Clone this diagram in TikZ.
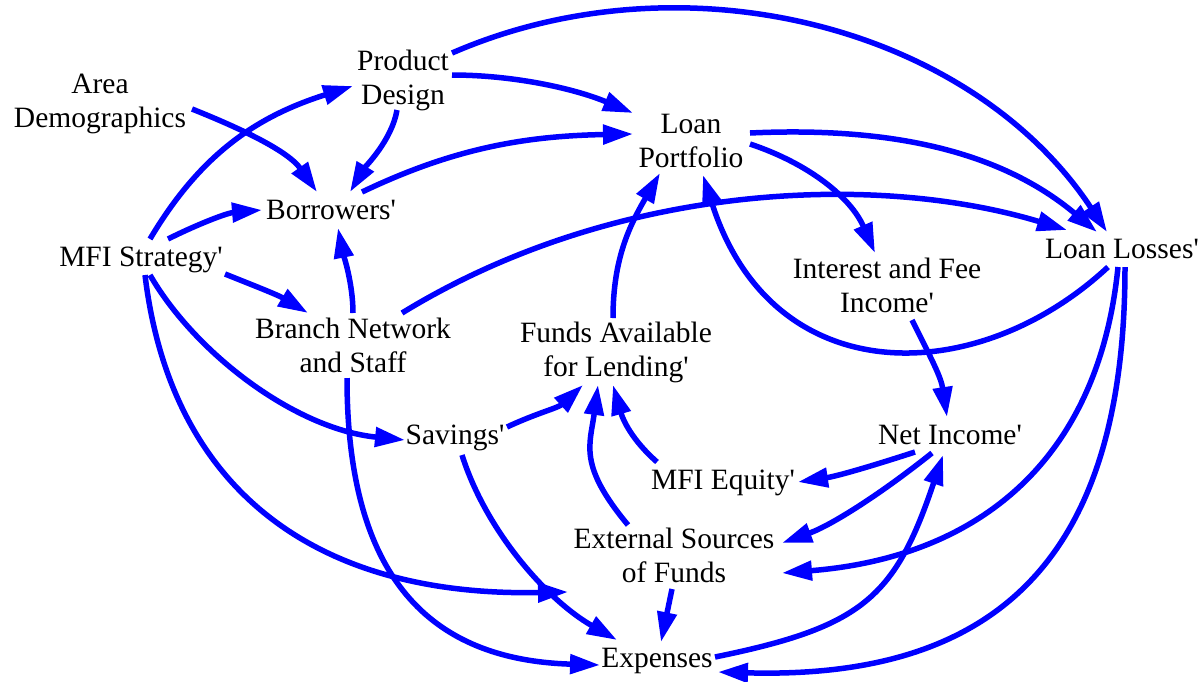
\documentclass[tikz,border=0pt]{standalone}
\usepackage{fontspec}
\setmainfont{Liberation Serif}
\usetikzlibrary{arrows.meta}
\definecolor{linkblue}{RGB}{0,0,255}
\newcommand{\ap}{\textquotesingle}
\tikzset{
  var/.style={inner sep=0pt, align=center, font=\fontsize{29.5}{34}\selectfont,
    execute at begin node=\strut, execute at end node=\strut},
  link/.style={draw=linkblue, line width=5.5pt,
    -{Triangle[length=30pt,width=19pt]}}
}
\begin{document}
\begin{tikzpicture}[x=1pt,y=-1pt]
\useasboundingbox (0,0) rectangle (1203,681);
% variables
\node[var] (ad)  at (100,106) {Area\\Demographics};
\node[var] (pd)  at (403,82)  {Product\\Design};
\node[var] (lp)  at (691,146) {Loan\\Portfolio};
\node[var] (bo)  at (331,213) {Borrowers\ap};
\node[var] (ms)  at (141,260) {MFI Strategy\ap};
\node[var] (ll)  at (1122,252) {Loan Losses\ap};
\node[var] (ifi) at (887,290) {Interest and Fee\\Income\ap};
\node[var] (bn)  at (353,350) {Branch Network\\and Staff};
\node[var] (fa)  at (616,354) {Funds Available\\for Lending\ap};
\node[var] (sv)  at (455,438) {Savings\ap};
\node[var] (ni)  at (950,438) {Net Income\ap};
\node[var] (eq)  at (723,483) {MFI Equity\ap};
\node[var] (es)  at (674,560) {External Sources\\of Funds};
\node[var] (ex)  at (657,661) {Expenses};
% links
\draw[link] ([shift={(49,-7)}]pd.center) .. controls +(60,0) and +(-60,-25) .. ([shift={(-58,-33)}]lp.center);
\draw[link] ([shift={(-6,28)}]pd.center) .. controls +(-5,30) and +(15,-25) .. ([shift={(19,-21)}]bo.center);
\draw[link] ([shift={(49,-29)}]pd.center) .. controls +(230,-100) and +(-137,-207) .. ([shift={(-15,-20)}]ll.center);
\draw[link] ([shift={(92,3)}]ad.center) .. controls +(50,20) and +(-29,-41) .. ([shift={(-14,-21)}]bo.center);
\draw[link] ([shift={(9,-21)}]ms.center) .. controls +(51,-86) and +(-95,30) .. ([shift={(-50,4)}]pd.center);
\draw[link] ([shift={(27,-21)}]ms.center) .. controls +(30,-15) and +(-35,3) .. ([shift={(-69,-3)}]bo.center);
\draw[link] ([shift={(84,14)}]ms.center) .. controls +(30,12) and +(-30,-18) .. ([shift={(-45,-37)}]bn.center);
\draw[link] ([shift={(9,15)}]ms.center) .. controls +(45,78) and +(-110,-11) .. ([shift={(-50,2)}]sv.center);
\draw[link] ([shift={(4,15)}]ms.center) .. controls +(25,208) and +(-260,5) .. ([shift={(-106,32)}]es.center);
\draw[link] ([shift={(31,-21)}]bo.center) .. controls +(90,-43) and +(-110,2) .. ([shift={(-58,-12)}]lp.center);
\draw[link] ([shift={(0,-37)}]bn.center) .. controls +(0,-30) and +(5,25) .. ([shift={(7,15)}]bo.center);
\draw[link] ([shift={(49,-37)}]bn.center) .. controls +(212,-130) and +(-192,-58) .. ([shift={(-55,-22)}]ll.center);
\draw[link] ([shift={(-6,28)}]bn.center) .. controls +(0,200) and +(-170,-5) .. ([shift={(-57,4)}]ex.center);
\draw[link] ([shift={(59,-2)}]lp.center) .. controls +(60,20) and +(-24,-55) .. ([shift={(-12,-37)}]ifi.center);
\draw[link] ([shift={(59,-13)}]lp.center) .. controls +(150,-7) and +(-92,-77) .. ([shift={(-25,-20)}]ll.center);
\draw[link] ([shift={(-14,15)}]ll.center) .. controls +(-131,122) and +(69,218) .. ([shift={(12,29)}]lp.center);
\draw[link] ([shift={(25,30)}]ifi.center) .. controls +(20,40) and +(-6,-40) .. ([shift={(-3,-21)}]ni.center);
\draw[link] ([shift={(-35,14)}]ni.center) .. controls +(-40,13) and +(40,-6) .. ([shift={(75,-1)}]eq.center);
\draw[link] ([shift={(-18,15)}]ni.center) .. controls +(-50,40) and +(50,-18) .. ([shift={(108,-17)}]es.center);
\draw[link] ([shift={(-4,15)}]ll.center) .. controls +(-19,190) and +(200,-16) .. ([shift={(108,13)}]es.center);
\draw[link] ([shift={(3,15)}]ll.center) .. controls +(0,290) and +(280,8) .. ([shift={(61,11)}]ex.center);
\draw[link] ([shift={(58,-4)}]ex.center) .. controls +(147,-30) and +(-48,143) .. ([shift={(-7,17)}]ni.center);
\draw[link] ([shift={(52,-11)}]sv.center) .. controls +(30,-14) and +(-25,23) .. ([shift={(-33,31)}]fa.center);
\draw[link] ([shift={(7,17)}]sv.center) .. controls +(24,76) and +(-70,-40) .. ([shift={(-40,-21)}]ex.center);
\draw[link] ([shift={(-3,-36)}]fa.center) .. controls +(0,-60) and +(-30,52) .. ([shift={(-31,27)}]lp.center);
\draw[link] ([shift={(-46,-35)}]es.center) .. controls +(-50,-60) and +(-8,60) .. ([shift={(-18,31)}]fa.center);
\draw[link] ([shift={(-66,-21)}]eq.center) .. controls +(-25,-22) and +(10,35) .. ([shift={(-3,31)}]fa.center);
\draw[link] ([shift={(-2,29)}]es.center) -- ([shift={(4,-19)}]ex.center);
\end{tikzpicture}
\end{document}
